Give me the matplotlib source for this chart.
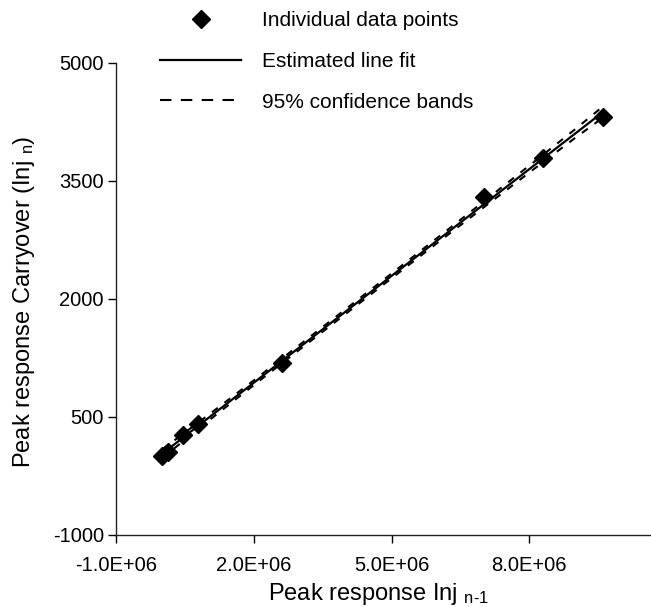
import matplotlib
matplotlib.use("Agg")
import matplotlib.pyplot as plt

plt.rcParams['font.family'] = ['Liberation Sans', 'DejaVu Sans']
plt.rcParams['mathtext.fontset'] = 'custom'
plt.rcParams['mathtext.rm'] = 'Liberation Sans'
plt.rcParams['mathtext.it'] = 'Liberation Sans'
plt.rcParams['mathtext.default'] = 'regular'
plt.rcParams['axes.unicode_minus'] = False

# data
inj_prev = [0.0e6, 0.13e6, 0.46e6, 0.79e6, 2.62e6, 7.02e6, 8.30e6, 9.61e6]
carryover = [0, 60, 271, 411, 1186, 3296, 3792, 4313]

fit_x = [0.0, 9.61e6]
fit_y = [30, 4379]

band_x = [0.0, 1e6, 2e6, 3e6, 4e6, 5e6, 6e6, 7e6, 8e6, 9e6, 9.61e6]
band_upper = [85, 520, 965, 1418, 1870, 2323, 2778, 3235, 3695, 4158, 4450]
band_lower = [-25, 446, 905, 1358, 1810, 2263, 2714, 3161, 3607, 4048, 4308]

x_ticks = [-1e6, 2e6, 5e6, 8e6]
x_tick_labels = ["-1.0E+06", "2.0E+06", "5.0E+06", "8.0E+06"]
y_ticks = [-1000, 500, 2000, 3500, 5000]

W, H = 651, 607
fig = plt.figure(figsize=(W / 100, H / 100), dpi=100)
ax = fig.add_axes([116 / W, (H - 535) / H, 551 / W, 472 / H])

dash = (0, (5.5, 4.5))
band_dash = (0, (3.5, 4))
pts, = ax.plot(inj_prev, carryover, linestyle='none', marker='D', markersize=9,
               color='black', zorder=3)
fit, = ax.plot(fit_x, fit_y, color='black', lw=1.6, zorder=2)
ax.plot(band_x, band_upper, color='black', lw=1.5, linestyle=band_dash, zorder=2)
ax.plot(band_x, band_lower, color='black', lw=1.5, linestyle=band_dash, zorder=2)
# legend handle for the bands uses the longer dash seen in the key
band, = ax.plot([], [], color='black', lw=1.5, linestyle=dash)

ax.set_xlim(-1e6, 1.1e7)
ax.set_ylim(-1000, 5000)
ax.set_xticks(x_ticks)
ax.set_xticklabels(x_tick_labels)
ax.set_yticks(y_ticks)
ax.tick_params(axis='both', direction='out', length=5.8, width=1, labelsize=14.5, colors='black')
ax.tick_params(axis='x', pad=9)
ax.tick_params(axis='y', pad=3)
for s in ['top', 'right']:
    ax.spines[s].set_visible(False)
for s in ['left', 'bottom']:
    ax.spines[s].set_linewidth(1.0)
    ax.spines[s].set_color('#222222')

fig.text(378 / W, 1 - 594 / H, r"Peak response Inj $_{\text{n-1}}$", fontsize=17,
         ha='center', va='center')
fig.text(24 / W, 1 - 302 / H, r"Peak response Carryover (Inj $_{\text{n}}$)", fontsize=17,
         ha='center', va='center', rotation=90)

fig.legend([pts, fit, band],
           ["Individual data points", "Estimated line fit", "95% confidence bands"],
           loc='upper left', bbox_to_anchor=(160 / W, 1 - 11 / H), frameon=False,
           fontsize=15, handlelength=3.9, handletextpad=1.0, labelspacing=1.05,
           borderpad=0, borderaxespad=0, numpoints=1)

fig.savefig("out.png", dpi=100)
